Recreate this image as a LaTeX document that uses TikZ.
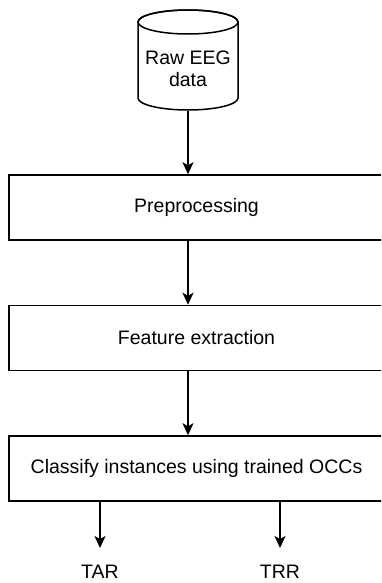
\documentclass[tikz,border=0pt]{standalone}
\usepackage{fontspec}
\setmainfont{Liberation Sans}
\usetikzlibrary{arrows.meta,calc}
\begin{document}
\begin{tikzpicture}[x=1pt,y=-1pt,
  line width=1.5pt,
  every node/.style={font=\fontsize{19.5}{22}\selectfont, inner sep=0pt},
  procbox/.style={draw, rectangle, minimum width=375pt, minimum height=65pt},
  flow/.style={-{Stealth[length=12pt,width=11pt,inset=3pt]}}]
\clip (0,0) rectangle (381,583);
% cylinder (database)
\node[minimum width=100pt, minimum height=100pt] (raw) at (188,60) {};
\draw[fill=white] (138,22) -- (138,98) arc[start angle=180,end angle=360,x radius=50pt,y radius=12pt]
  -- (238,22) arc[start angle=0,end angle=180,x radius=50pt,y radius=12pt] -- cycle;
\draw (188,22) ellipse[x radius=50pt,y radius=12pt];
\node[align=center] (rawtext) at (188,69) {Raw EEG\\data};
% process boxes
\node[procbox] (prep) at (196.5,207.5) {Preprocessing};
\node[procbox] (feat) at (196.5,338) {Feature extraction};
\node[procbox] (cls) at (196.5,468.5) {Classify instances using trained OCCs};
% outputs
\node (tar) at (100,572) {TAR};
\node (trr) at (280,572) {TRR};
\coordinate (tarend) at (100,548);
\coordinate (trrend) at (280,548);
% connectors
\draw[flow] (raw.south) -- (prep.north -| raw.south);
\draw[flow] (prep.south -| raw.south) -- (feat.north -| raw.south);
\draw[flow] (feat.south -| raw.south) -- (cls.north -| raw.south);
\draw[flow] (cls.south -| tarend) -- (tarend);
\draw[flow] (cls.south -| trrend) -- (trrend);
\end{tikzpicture}
\end{document}
